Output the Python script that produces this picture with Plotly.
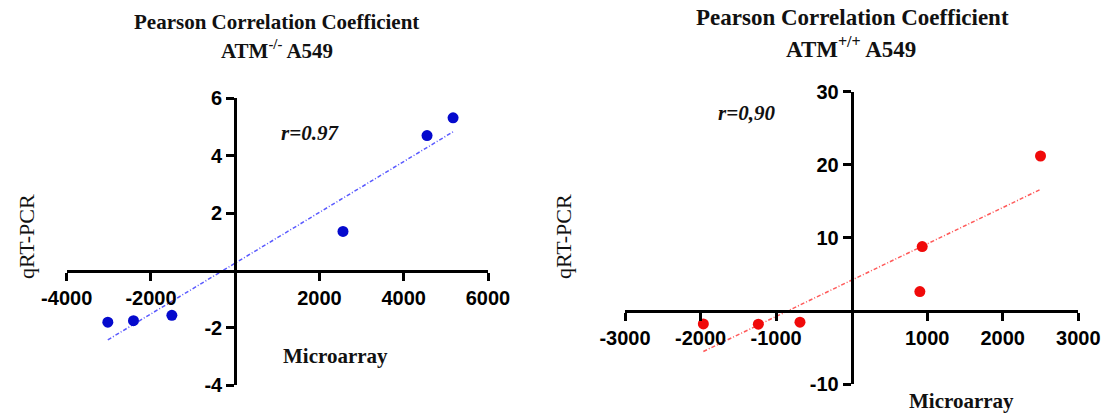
import numpy as np
import plotly.graph_objects as go

# The page body has an 8px margin, so the figure is drawn 8px in from the corner.
OFF = 8
W, H = 1110 - OFF, 414 - OFF

# ---- data ----
left_x = [-3024, -2415, -1504, 2558, 4553, 5171]
left_y = [-1.80, -1.75, -1.56, 1.36, 4.70, 5.32]
right_x = [-1963, -1235, -684, 903, 934, 2500]
right_y = [-1.78, -1.82, -1.54, 2.65, 8.80, 21.2]

left_xticks = [-4000, -2000, 2000, 4000, 6000]
left_xticktext = ["-4000", "-2000", "2000", "4000", "6000"]
left_yticks = [-4, -2, 2, 4, 6]
left_yticktext = ["-4", "-2", "2", "4", "6"]
right_xticks = [-3000, -2000, -1000, 1000, 2000, 3000]
right_xticktext = ["-3000", "-2000", "-1000", "1000", "2000", "3000"]
right_yticks = [-10, 10, 20, 30]
right_yticktext = ["-10", "10", "20", "30"]

left_r_label = "r=0.97"
right_r_label = "r=0,90"


def px(p):
    return (p - OFF) / W


def py(p):
    return 1 - (p - OFF) / H


# ---- layout geometry (reference pixel positions) ----
L_xr, L_yr = [-4000, 6000], [-4, 6]
R_xr, R_yr = [-3000, 3000], [-10, 30]
L_xd = [px(66.7), px(488)]
L_yd = [py(385.3), py(98.3)]
R_xd = [px(625), px(1078.3)]
R_yd = [py(384), py(91.7)]


def frac(v, r, d):
    return d[0] + (v - r[0]) / (r[1] - r[0]) * (d[1] - d[0])


fig = go.Figure()

blue_m, blue_l = "rgb(5,10,205)", "rgb(90,90,255)"
red_m, red_l = "rgb(240,10,10)", "rgb(255,90,90)"

for xs, ys, mc, lc, xa, ya in [
    (left_x, left_y, blue_m, blue_l, "x", "y"),
    (right_x, right_y, red_m, red_l, "x2", "y2"),
]:
    k, b = np.polyfit(xs, ys, 1)
    lx = [min(xs), max(xs)]
    ly = [k * v + b for v in lx]
    fig.add_trace(go.Scatter(x=lx, y=ly, mode="lines", xaxis=xa, yaxis=ya,
                             line=dict(color=lc, width=1.5, dash="4px,2px,1px,2px"),
                             hoverinfo="skip"))
    fig.add_trace(go.Scatter(x=xs, y=ys, mode="markers", xaxis=xa, yaxis=ya,
                             marker=dict(color=mc, size=11)))

tickfont = dict(family="Liberation Sans, Arial", size=20, color="black", weight="bold")
common = dict(showgrid=False, zeroline=False, showline=True, linecolor="black", linewidth=3,
              ticks="outside", ticklen=8, tickwidth=3, tickcolor="black",
              tickfont=tickfont, tickmode="array", fixedrange=True, automargin=False)

fig.update_layout(
    width=W, height=H, autosize=False,
    margin=dict(l=0, r=0, t=0, b=0, autoexpand=False),
    paper_bgcolor="white", plot_bgcolor="white",
    showlegend=False,
    xaxis=dict(domain=L_xd, range=L_xr, anchor="free",
               position=frac(0, L_yr, L_yd),
               tickvals=left_xticks, ticktext=left_xticktext, **common),
    yaxis=dict(domain=L_yd, range=L_yr, anchor="free",
               position=frac(0, L_xr, L_xd),
               tickvals=left_yticks, ticktext=left_yticktext, **common),
    xaxis2=dict(domain=R_xd, range=R_xr, anchor="free",
                position=frac(0, R_yr, R_yd),
                tickvals=right_xticks, ticktext=right_xticktext, **common),
    yaxis2=dict(domain=R_yd, range=R_yr, anchor="free",
                position=frac(0, R_xr, R_xd),
                tickvals=right_yticks, ticktext=right_yticktext, **common),
)

serif = "Liberation Serif, Times New Roman"


def ann(text, x, y, size, bold=True, italic=False, angle=0):
    fig.add_annotation(text=text, x=px(x), y=py(y), xref="paper", yref="paper",
                       xanchor="center", yanchor="middle", showarrow=False, textangle=angle,
                       font=dict(family=serif, size=size, color="#111",
                                 weight="bold" if bold else "normal",
                                 style="italic" if italic else "normal"))


ann("Pearson Correlation Coefficient", 276, 22, 21)
ann("ATM<sup>-/-</sup> A549", 276.5, 50, 21)
ann("Pearson Correlation Coefficient", 852.5, 18, 23)
ann("ATM<sup>+/+</sup> A549", 851, 47, 23)

ann("qRT-PCR", 26, 237, 22, bold=False, angle=-90)
ann("qRT-PCR", 563, 237, 22, bold=False, angle=-90)
ann("Microarray", 335, 356, 21)
ann("Microarray", 961, 401, 21)

ann(left_r_label, 310, 133, 21, italic=True)
ann(right_r_label, 746, 113, 21, italic=True)

fig.write_html("out.html")
